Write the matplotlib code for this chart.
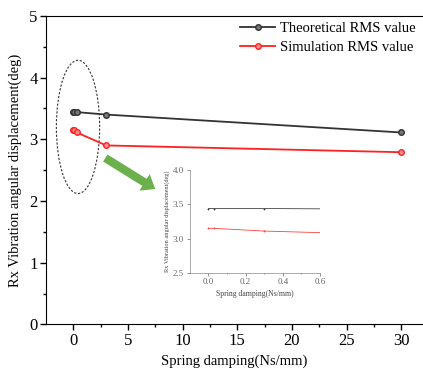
import matplotlib
matplotlib.use('AGG')

import matplotlib.pyplot as plt
from matplotlib.patches import Ellipse

plt.rcParams['font.family'] = ['Liberation Serif', 'DejaVu Serif']

damping = [0, 0.03, 0.3, 3, 30]
theory_rms = [3.44, 3.44, 3.44, 3.40, 3.11]
sim_rms = [3.15, 3.15, 3.11, 2.90, 2.79]


def plot_main(fig):
  ax = fig.add_axes([0.109, 0.121, 0.891, 0.836])
  ax.plot(damping, theory_rms, color='#333333', lw=1.3, marker='o', ms=4,
          mfc='#777777', mec='#333333', label='Theoretical RMS value')
  ax.plot(damping, sim_rms, color='#ff2020', lw=1.3, marker='o', ms=4,
          mfc='#ff9090', mec='#ff2020', label='Simulation RMS value')
  ax.set_xlim(-2.5, 32)
  ax.set_ylim(0, 5)
  ax.set_xticks([0, 5, 10, 15, 20, 25, 30])
  ax.set_xticks([2.5, 7.5, 12.5, 17.5, 22.5, 27.5], minor=True)
  ax.set_yticks([0, 1, 2, 3, 4, 5])
  ax.set_yticks([0.5, 1.5, 2.5, 3.5, 4.5], minor=True)
  ax.tick_params(labelsize=12, length=4, width=1, pad=2)
  ax.tick_params(which='minor', length=2.5, width=1)
  ax.spines['right'].set_visible(False)
  ax.set_xlabel('Spring damping(Ns/mm)', fontsize=10.5, labelpad=4)
  ax.set_ylabel('Rx Vibration angular displacement(deg)', fontsize=10.5, labelpad=5)
  ax.legend(loc='upper right', frameon=False, fontsize=10.5, handlelength=2.4,
            handletextpad=0.3, borderaxespad=0.0, labelspacing=0.4,
            bbox_to_anchor=(0.995, 1.0))
  ax.add_patch(Ellipse((0.42, 3.2), 3.96, 2.16, fill=False, ls=(0, (2, 1.5)),
                       lw=0.8, color='#333333'))
  ax.annotate('', xy=(7.7, 2.17), xytext=(2.7, 2.72),
              arrowprops=dict(arrowstyle='simple,head_width=1.4,head_length=0.9,tail_width=0.6',
                              color='#6ab04c', lw=0))
  return ax


def plot_inset(fig):
  ax = fig.add_axes([0.4485, 0.261, 0.308, 0.2775])
  ax.plot(damping, theory_rms, color='#444444', lw=0.6, marker='+', ms=2, mew=0.6)
  ax.plot(damping, sim_rms, color='#ff4040', lw=0.6, marker='+', ms=2, mew=0.6)
  ax.set_xlim(-0.1, 0.6)
  ax.set_ylim(2.5, 4.0)
  ax.set_xticks([0.0, 0.2, 0.4, 0.6])
  ax.set_yticks([2.5, 3.0, 3.5, 4.0])
  ax.set_xticks([0.1, 0.3, 0.5], minor=True)
  ax.tick_params(labelsize=6.5, length=2, width=0.5, colors='#666666', pad=2)
  ax.tick_params(which='minor', length=1, width=0.5, colors='#666666')
  for s in ['top', 'right']:
    ax.spines[s].set_visible(False)
  for s in ['left', 'bottom']:
    ax.spines[s].set_linewidth(0.5)
    ax.spines[s].set_color('#888888')
  ax.set_xlabel('Spring damping(Ns/mm)', fontsize=5.5, color='#444444', labelpad=3)
  ax.set_ylabel('Rx Vibration angular displacement(deg)', fontsize=4.5,
                color='#444444', labelpad=2)


def main():
  fig = plt.figure(figsize=(4.23, 3.69), dpi=100)
  plot_main(fig)
  plot_inset(fig)
  fig.savefig('out.png', dpi=100)


if __name__ == "__main__":
  main()
